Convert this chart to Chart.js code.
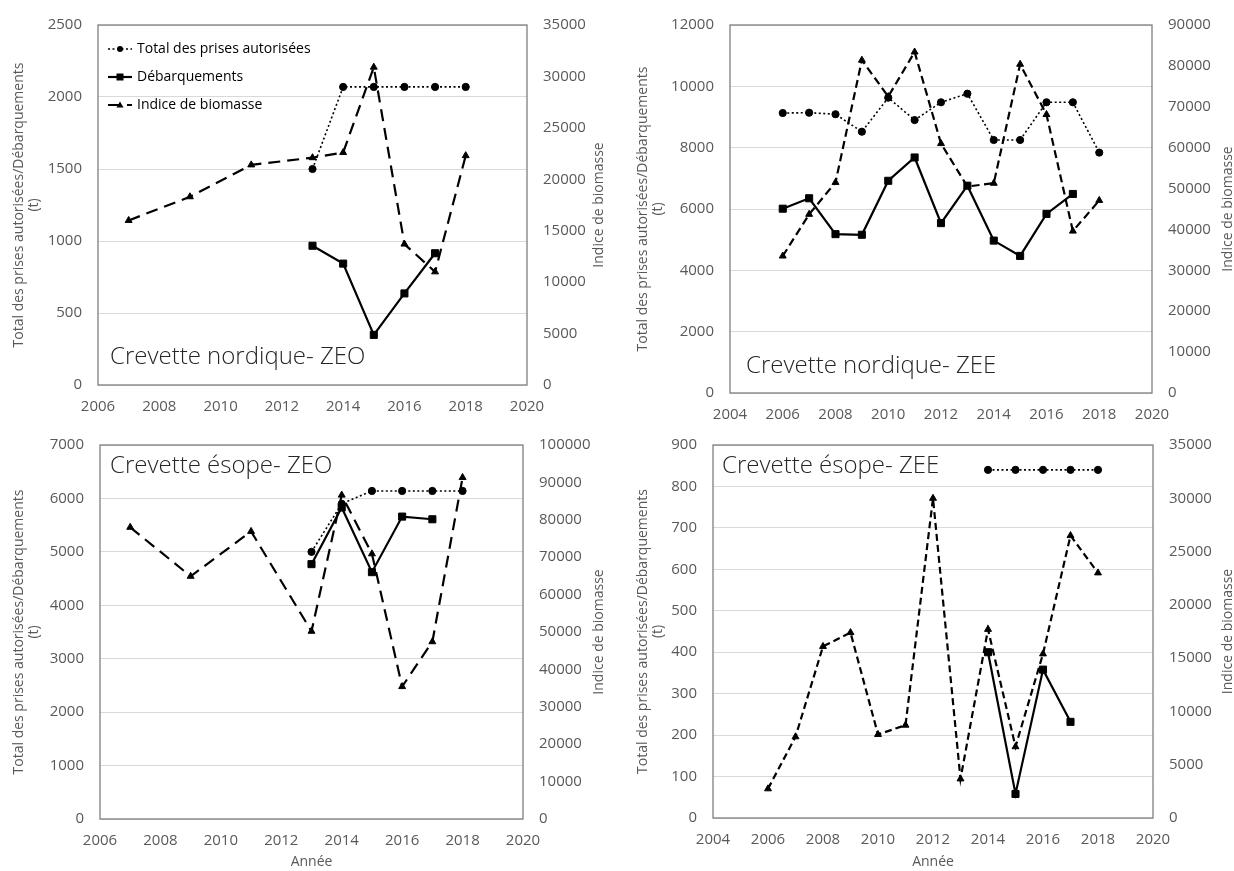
<!DOCTYPE html>
<html lang="fr">
<head>
<meta charset="UTF-8">
<title>Crevettes - TAC, débarquements et indice de biomasse</title>
<script src="https://cdn.jsdelivr.net/npm/chart.js"></script>
<style>
  body { margin: 0; background: #fff; }
  canvas { position: absolute; }
</style>
</head>
<body>
<canvas id="nordZeo" width="617" height="420" style="left:0;top:0"></canvas>
<canvas id="nordZee" width="617" height="420" style="left:617px;top:0"></canvas>
<canvas id="esopeZeo" width="617" height="451" style="left:0;top:420px"></canvas>
<canvas id="esopeZee" width="617" height="451" style="left:617px;top:420px"></canvas>
<script>
// --- Crevette nordique - ZEO
const anneesNordZeo = [2007, 2008, 2009, 2010, 2011, 2012, 2013, 2014, 2015, 2016, 2017, 2018];
const tacNordZeo = [null, null, null, null, null, null, 1500, 2070, 2070, 2070, 2070, 2070];
const debNordZeo = [null, null, null, null, null, null, 967, 843, 348, 636, 915, null];
const bioNordZeo = [16000, null, 18300, null, 21400, null, 22100, 22600, 30900, 13700, 11000, 22300];

// --- Crevette nordique - ZEE
const anneesNordZee = [2006, 2007, 2008, 2009, 2010, 2011, 2012, 2013, 2014, 2015, 2016, 2017, 2018];
const tacNordZee = [9130, 9140, 9090, 8520, 9630, 8900, 9480, 9760, 8250, 8250, 9480, 9480, 7840];
const debNordZee = [6010, 6350, 5180, 5160, 6920, 7680, 5540, 6760, 4970, 4470, 5840, 6490, null];
const bioNordZee = [33500, 43700, 51500, 81400, 72500, 83400, 61000, 50500, 51300, 80400, 68100, 39600, 47100];

// --- Crevette ésope - ZEO
const anneesEsopeZeo = [2007, 2008, 2009, 2010, 2011, 2012, 2013, 2014, 2015, 2016, 2017, 2018];
const tacEsopeZeo = [null, null, null, null, null, null, 5000, 5900, 6140, 6140, 6140, 6140];
const debEsopeZeo = [null, null, null, null, null, null, 4770, 5830, 4620, 5660, 5610, null];
const bioEsopeZeo = [78000, null, 64900, null, 76900, null, 50200, 86600, 70900, 35400, 47400, 91300];

// --- Crevette ésope - ZEE
const anneesEsopeZee = [2006, 2007, 2008, 2009, 2010, 2011, 2012, 2013, 2014, 2015, 2016, 2017, 2018];
const tacEsopeZee = [null, null, null, null, null, null, null, null, 840, 840, 840, 840, 840];
const debEsopeZee = [null, null, null, null, null, null, null, null, 400, 58, 358, 232, null];
const bioEsopeZee = [2740, 7620, 16100, 17400, 7840, 8710, 30000, 3670, 17700, 6690, 15400, 26500, 23000];

// axes : [min, max, pas]
const axeXNordZeo = [2006, 2020, 2], axeGNordZeo = [0, 2500, 500], axeDNordZeo = [0, 35000, 5000];
const axeXNordZee = [2004, 2020, 2], axeGNordZee = [0, 12000, 2000], axeDNordZee = [0, 90000, 10000];
const axeXEsopeZeo = [2006, 2020, 2], axeGEsopeZeo = [0, 7000, 1000], axeDEsopeZeo = [0, 100000, 10000];
const axeXEsopeZee = [2004, 2020, 2], axeGEsopeZee = [0, 900, 100], axeDEsopeZee = [0, 35000, 5000];

const nomsSeries = ['Total des prises autorisées', 'Débarquements', 'Indice de biomasse'];
const titreGauche = ['Total des prises autorisées/Débarquements', '(t)'];
const titreDroit = 'Indice de biomasse';

const police = "'Open Sans', 'Noto Sans', sans-serif";
Chart.defaults.font.family = police;
Chart.defaults.color = '#595959';

const styleTac = { borderWidth: 1.6, borderDash: [2, 2.5], pointStyle: 'circle', pointRadius: 3.6 };
const styleDeb = { borderWidth: 2.2, borderDash: [], pointStyle: 'rect', pointRadius: 5 };

// petit dessin ligne + marqueur pour la légende
function iconeLegende(style) {
    const c = document.createElement('canvas');
    c.width = 24; c.height = 12;
    const g = c.getContext('2d');
    g.strokeStyle = '#000';
    g.fillStyle = '#000';
    g.lineWidth = style.borderWidth;
    g.setLineDash(style.borderDash);
    g.beginPath(); g.moveTo(0, 6); g.lineTo(24, 6); g.stroke();
    g.setLineDash([]);
    g.beginPath();
    if (style.pointStyle === 'circle') g.arc(12, 6, 3, 0, Math.PI * 2);
    else if (style.pointStyle === 'rect') g.rect(8.5, 2.5, 7, 7);
    else { g.moveTo(12, 2.5); g.lineTo(15.5, 8.5); g.lineTo(8.5, 8.5); g.closePath(); }
    g.fill();
    return c;
}

function serie(label, annees, valeurs, style, axe) {
    return Object.assign({
        label: label,
        data: annees.map((a, i) => ({ x: a, y: valeurs[i] })),
        yAxisID: axe,
        borderColor: '#000',
        backgroundColor: '#000',
        pointBackgroundColor: '#000',
        pointBorderColor: '#000',
        pointBorderWidth: 1,
        spanGaps: true,
        tension: 0
    }, style);
}

const decorPanneau = {
    id: 'decorPanneau',
    afterLayout(chart, args, opts) {
        if (opts.decalageLegende && chart.legend) {
            chart.legend.left = chart.chartArea.left + opts.decalageLegende[0];
            chart.legend.top = chart.chartArea.top + opts.decalageLegende[1];
        }
    },
    beforeDatasetsDraw(chart) {
        const { ctx, chartArea: a } = chart;
        ctx.save();
        ctx.strokeStyle = '#7f7f7f';
        ctx.lineWidth = 1.3;
        ctx.strokeRect(a.left, a.top, a.right - a.left, a.bottom - a.top);
        ctx.restore();
    },
    afterDraw(chart, args, opts) {
        const { ctx, chartArea: a } = chart;
        ctx.save();
        // titre de l'axe de droite, lu de bas en haut
        ctx.translate(opts.titreDroitX, (a.top + a.bottom) / 2);
        ctx.rotate(-Math.PI / 2);
        ctx.font = '14px ' + police;
        ctx.fillStyle = '#595959';
        ctx.textAlign = 'center';
        ctx.textBaseline = 'middle';
        ctx.fillText(titreDroit, 0, 0);
        ctx.restore();

        ctx.save();
        ctx.font = '300 24px ' + police;
        ctx.fillStyle = '#262626';
        ctx.textBaseline = 'alphabetic';
        const y = opts.etiquetteEnHaut ? a.top + opts.etiquetteDy : a.bottom + opts.etiquetteDy;
        ctx.fillText(opts.etiquette, a.left + opts.etiquetteDx, y);
        ctx.restore();
    }
};

function graphique(id, p) {
    const canvas = document.getElementById(id);
    const W = canvas.width, H = canvas.height;
    const styleBio = { borderWidth: 2.2, borderDash: p.tirets, pointStyle: 'triangle', pointRadius: 4 };
    const icones = [iconeLegende(styleTac), iconeLegende(styleDeb), iconeLegende(styleBio)];

    return new Chart(canvas, {
        type: 'line',
        data: {
            datasets: [
                serie(nomsSeries[0], p.annees, p.tac, styleTac, 'y'),
                serie(nomsSeries[1], p.annees, p.deb, styleDeb, 'y'),
                serie(nomsSeries[2], p.annees, p.bio, styleBio, 'y1')
            ]
        },
        options: {
            responsive: false,
            animation: false,
            layout: { padding: { top: p.haut, left: 0, right: 0, bottom: 0 } },
            plugins: {
                tooltip: { enabled: false },
                legend: {
                    display: !!p.legende,
                    position: 'chartArea',
                    align: 'start',
                    labels: {
                        usePointStyle: true,
                        pointStyleWidth: 20,
                        padding: 14,
                        color: '#404040',
                        font: { size: 14 },
                        generateLabels: chart => chart.data.datasets.map((ds, i) => ({
                            text: ds.label,
                            pointStyle: icones[i],
                            datasetIndex: i,
                            hidden: false,
                            lineWidth: 0,
                            fillStyle: 'transparent',
                            strokeStyle: 'transparent'
                        }))
                    }
                },
                decorPanneau: {
                    decalageLegende: p.legende ? [-2, 3] : null,
                    titreDroitX: p.titreDroitX,
                    etiquette: p.etiquette,
                    etiquetteEnHaut: p.etiquetteEnHaut,
                    etiquetteDx: p.etiquetteDx,
                    etiquetteDy: p.etiquetteDy
                }
            },
            scales: {
                x: {
                    type: 'linear',
                    position: 'bottom',
                    min: p.axeX[0], max: p.axeX[1],
                    ticks: { stepSize: p.axeX[2], padding: 13, maxRotation: 0, font: { size: 15 }, callback: v => v },
                    grid: { display: false, drawTicks: false },
                    border: { display: false },
                    title: {
                        display: !!p.titreX,
                        text: 'Année',
                        font: { size: 14 },
                        padding: { top: 0, bottom: 0.6 }
                    },
                    afterFit: s => { s.height = H - p.bas; }
                },
                y: {
                    position: 'left',
                    min: p.axeG[0], max: p.axeG[1],
                    ticks: { stepSize: p.axeG[2], padding: 16, font: { size: 15 }, callback: v => v },
                    grid: { color: '#d9d9d9', drawTicks: false },
                    border: { display: false },
                    title: {
                        display: true,
                        text: titreGauche,
                        font: { size: 14, lineHeight: 1.05 },
                        padding: { top: p.titreGaucheX - 7.35, bottom: 0 }
                    },
                    afterFit: s => { s.width = p.gauche; }
                },
                y1: {
                    position: 'right',
                    min: p.axeD[0], max: p.axeD[1],
                    ticks: { stepSize: p.axeD[2], padding: 16, font: { size: 15 }, callback: v => v },
                    grid: { drawOnChartArea: false, drawTicks: false },
                    border: { display: false },
                    afterFit: s => { s.width = W - p.droite; }
                }
            }
        },
        plugins: [decorPanneau]
    });
}

graphique('nordZeo', {
    annees: anneesNordZeo, tac: tacNordZeo, deb: debNordZeo, bio: bioNordZeo,
    axeX: axeXNordZeo, axeG: axeGNordZeo, axeD: axeDNordZeo,
    gauche: 98, droite: 527, haut: 15, bas: 385,
    titreGaucheX: 19, titreDroitX: 599, tirets: [12, 7], legende: true,
    etiquette: 'Crevette nordique- ZEO', etiquetteEnHaut: false, etiquetteDx: 12, etiquetteDy: -21
});

graphique('nordZee', {
    annees: anneesNordZee, tac: tacNordZee, deb: debNordZee, bio: bioNordZee,
    axeX: axeXNordZee, axeG: axeGNordZee, axeD: axeDNordZee,
    gauche: 113, droite: 535, haut: 17, bas: 393,
    titreGaucheX: 26, titreDroitX: 611, tirets: [8, 4.5], legende: false,
    etiquette: 'Crevette nordique- ZEE', etiquetteEnHaut: false, etiquetteDx: 16, etiquetteDy: -20
});

graphique('esopeZeo', {
    annees: anneesEsopeZeo, tac: tacEsopeZeo, deb: debEsopeZeo, bio: bioEsopeZeo,
    axeX: axeXEsopeZeo, axeG: axeGEsopeZeo, axeD: axeDEsopeZeo,
    gauche: 100, droite: 523, haut: 23, bas: 399,
    titreGaucheX: 19, titreDroitX: 599, tirets: [12, 7], legende: false, titreX: true,
    etiquette: 'Crevette ésope- ZEO', etiquetteEnHaut: true, etiquetteDx: 10, etiquetteDy: 28
});

graphique('esopeZee', {
    annees: anneesEsopeZee, tac: tacEsopeZee, deb: debEsopeZee, bio: bioEsopeZee,
    axeX: axeXEsopeZee, axeG: axeGEsopeZee, axeD: axeDEsopeZee,
    gauche: 96, droite: 536, haut: 23, bas: 398,
    titreGaucheX: 26, titreDroitX: 611, tirets: [7, 4], legende: false, titreX: true,
    etiquette: 'Crevette ésope- ZEE', etiquetteEnHaut: true, etiquetteDx: 9, etiquetteDy: 28
});
</script>
</body>
</html>
